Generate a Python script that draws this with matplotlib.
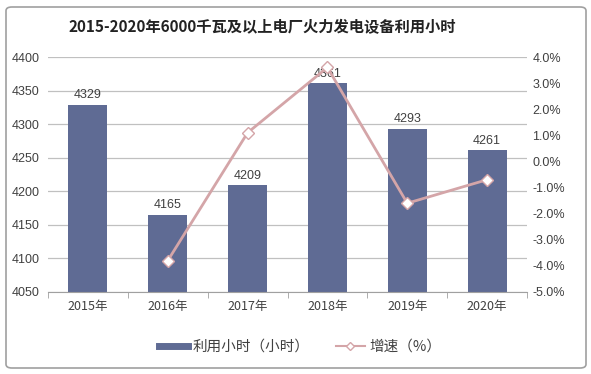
import matplotlib
matplotlib.use("Agg")
import matplotlib.pyplot as plt
from matplotlib.patches import FancyBboxPatch
from matplotlib.lines import Line2D

plt.rcParams['font.family'] = ['Noto Sans CJK SC', 'DejaVu Sans']

years = ["2015年", "2016年", "2017年", "2018年", "2019年", "2020年"]
hours = [4329, 4165, 4209, 4361, 4293, 4261]
growth = [None, -3.8, 1.1, 3.6, -1.6, -0.7]
left_ticks = [4050, 4100, 4150, 4200, 4250, 4300, 4350, 4400]
right_ticks = [-5, -4, -3, -2, -1, 0, 1, 2, 3, 4]

bar_color = "#5f6b94"
line_color = "#d4a5a8"
text_color = "#404040"

fig = plt.figure(figsize=(5.91, 3.74), dpi=100)
W, H = 591, 374
ax = fig.add_axes([48 / W, 1 - 292 / H, (527 - 48) / W, (292 - 57) / H])

x = list(range(len(years)))
ax.bar(x, [h - left_ticks[0] for h in hours], bottom=left_ticks[0], width=0.49,
       color=bar_color, zorder=2)
ax.set_ylim(left_ticks[0], left_ticks[-1])
ax.set_xlim(-0.5, len(years) - 0.5)
ax.set_yticks(left_ticks)
ax.set_yticklabels([str(t) for t in left_ticks], fontsize=9, color=text_color,
                   family=['Liberation Sans', 'DejaVu Sans'])
ax.yaxis.grid(True, color="#c0c0c0", linewidth=0.9, zorder=0)
ax.set_axisbelow(True)
for s in ["top", "right", "left"]:
    ax.spines[s].set_visible(False)
ax.spines["bottom"].set_color("#a0a0a0")
ax.tick_params(axis="y", length=0, pad=6)
ax.set_xticks([i + 0.5 for i in x[:-1]] + [-0.5, len(years) - 0.5], minor=True)
ax.set_xticks(x)
ax.set_xticklabels(years, fontsize=9, color=text_color)
ax.tick_params(axis="x", which="major", length=0, pad=6)
ax.tick_params(axis="x", which="minor", length=4, color="#a0a0a0", direction="out")

for xi, h in zip(x, hours):
    ax.text(xi, h + 5, str(h), ha="center", va="bottom", fontsize=9, color=text_color,
            family=['Liberation Sans', 'DejaVu Sans'], zorder=5)

ax2 = ax.twinx()
gx = [xi for xi, g in zip(x, growth) if g is not None]
gy = [g for g in growth if g is not None]
ax2.plot(gx, gy, color=line_color, linewidth=2, marker="D", markersize=6,
         markerfacecolor="white", markeredgecolor=line_color, markeredgewidth=1, zorder=4)
ax2.set_ylim(right_ticks[0], right_ticks[-1])
ax2.set_yticks(right_ticks)
ax2.set_yticklabels([f"{t:.1f}%" for t in right_ticks], fontsize=9, color=text_color,
                    family=['Liberation Sans', 'DejaVu Sans'])
ax2.tick_params(axis="y", length=0, pad=4)
for s in ax2.spines.values():
    s.set_visible(False)

fig.text(262 / W, 1 - 27 / H, "2015-2020年6000千瓦及以上电厂火力发电设备利用小时",
         ha="center", va="center", fontsize=11, fontweight="bold", color="#222222")

handles = [Line2D([0], [0], color=bar_color, linewidth=5),
           Line2D([0], [0], color=line_color, linewidth=1.5, marker="D", markersize=4,
                  markerfacecolor="white", markeredgecolor=line_color)]
fig.legend(handles, ["利用小时（小时）", "增速（%）"], loc="center",
           bbox_to_anchor=(300 / W, 1 - 347 / H), ncol=2, frameon=False,
           fontsize=10.5, handlelength=2.0, columnspacing=1.8, handletextpad=0.3,
           labelcolor=text_color)

border = FancyBboxPatch((6 / W, 6 / H), (586 - 6) / W, (367 - 6) / H,
                        boxstyle="round,pad=0,rounding_size=0.01",
                        transform=fig.transFigure, fill=False,
                        edgecolor="#a0a0a0", linewidth=1.2)
fig.patches.append(border)

fig.savefig("out.png", dpi=100)
